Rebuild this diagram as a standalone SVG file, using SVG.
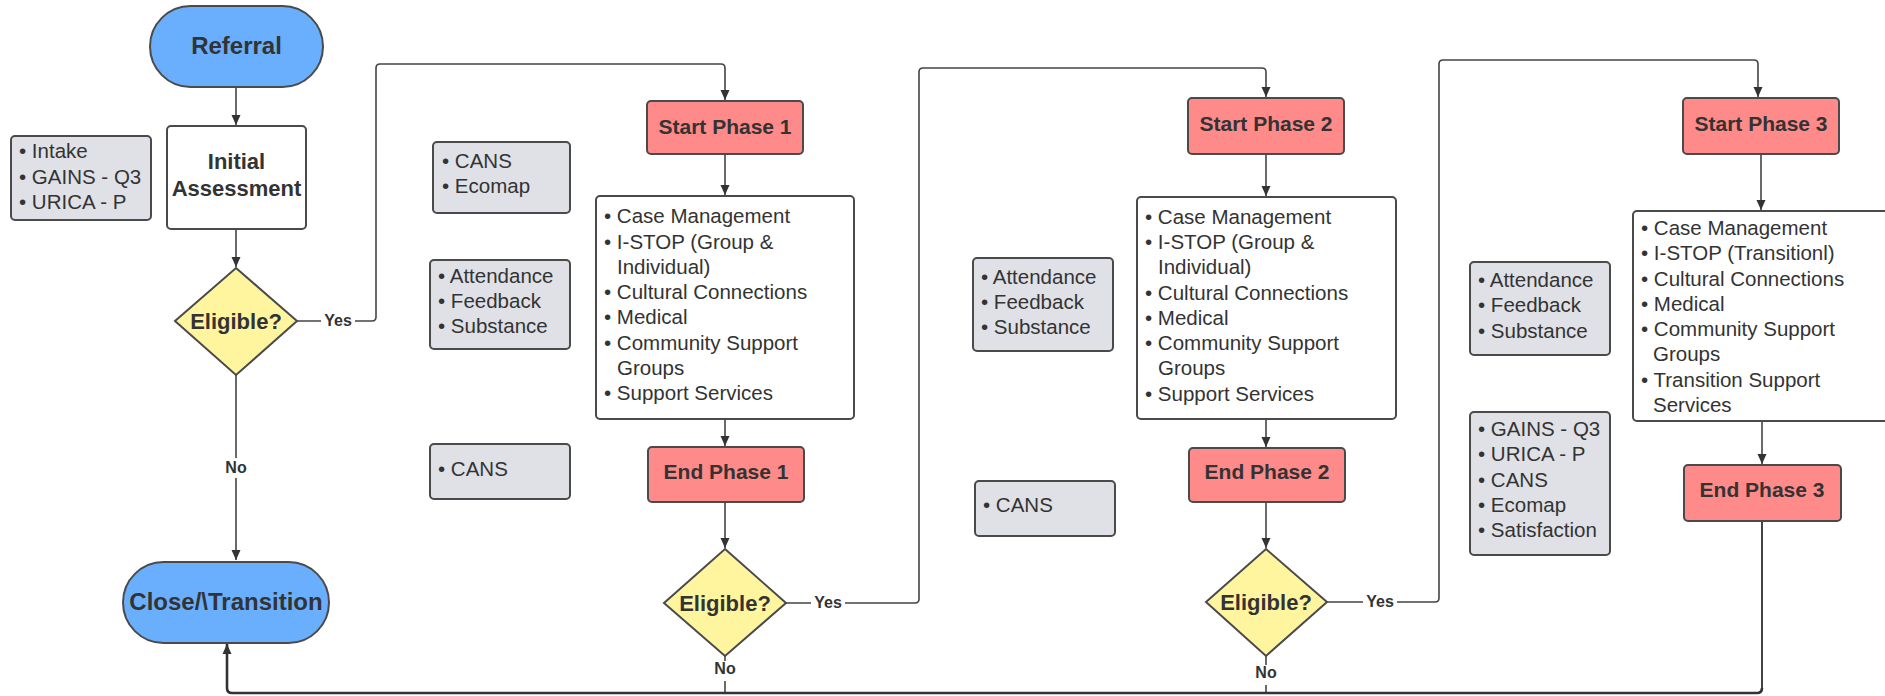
<svg xmlns="http://www.w3.org/2000/svg" width="1885" height="696" viewBox="0 0 1885 696">
<defs>
<marker id="arr" markerUnits="userSpaceOnUse" markerWidth="12" markerHeight="12" viewBox="0 0 12 12" refX="11" refY="6" orient="auto">
<path d="M1 1.5 L11 6 L1 10.5 Z" fill="#333"/>
</marker>
<style>
.term{fill:#6aaffd;stroke:#4a4a4a;stroke-width:2}
.proc{fill:#fff;stroke:#4a4a4a;stroke-width:2}
.note{fill:#dfe1e6;stroke:#4a4a4a;stroke-width:2}
.phase{fill:#ff8a8a;stroke:#4a4a4a;stroke-width:2}
.dec{fill:#fff59f;stroke:#4a4a4a;stroke-width:2}
.t{font-family:"Liberation Sans",Arial,sans-serif;fill:#333}
.b{font-weight:bold}
.big{font-size:24px}
.mid{font-size:22px}
.ph{font-size:21px}
.body{font-size:20.5px}
.lbl{font-size:16px;font-weight:bold}
.c{text-anchor:middle}
.con{fill:none;stroke:#444;stroke-width:1.6;stroke-linejoin:round}
.ret{fill:none;stroke:#333;stroke-width:2.6;stroke-linejoin:round}
.lb{fill:#fff}
</style>
</defs>

<g id="connectors">
<path class="con" d="M236 87 V125" marker-end="url(#arr)"/>
<path class="con" d="M236 229 V267" marker-end="url(#arr)"/>
<path class="con" d="M297 321 H372 Q376 321 376 317 V68 Q376 64 380 64 H721 Q725 64 725 68 V100" marker-end="url(#arr)"/>
<path class="con" d="M236 375 V560" marker-end="url(#arr)"/>
<path class="con" d="M725 154 V195" marker-end="url(#arr)"/>
<path class="con" d="M725 419 V446" marker-end="url(#arr)"/>
<path class="con" d="M725 502 V548" marker-end="url(#arr)"/>
<path class="con" d="M786 603 H915 Q919 603 919 599 V72 Q919 68 923 68 H1262 Q1266 68 1266 72 V97" marker-end="url(#arr)"/>
<path class="con" d="M1266 154 V196" marker-end="url(#arr)"/>
<path class="con" d="M1266 419 V447" marker-end="url(#arr)"/>
<path class="con" d="M1266 502 V548" marker-end="url(#arr)"/>
<path class="con" d="M1327 602 H1435 Q1439 602 1439 598 V64 Q1439 60 1443 60 H1754 Q1758 60 1758 64 V97" marker-end="url(#arr)"/>
<path class="con" d="M1761 154 V210" marker-end="url(#arr)"/>
<path class="con" d="M1762 421 V464" marker-end="url(#arr)"/>
<path class="con" d="M725 656 V693"/>
<path class="con" d="M1266 656 V693"/>
<path class="con" style="stroke-width:2" d="M1762 521 V689"/>
<path class="ret" d="M1762 688 Q1762 693 1757 693 H232 Q227 693 227 688 V644" marker-end="url(#arr)"/>
<rect class="lb" x="321" y="312" width="34" height="18"/>
<text class="t lbl c" x="338" y="326">Yes</text>
<rect class="lb" x="222" y="458" width="28" height="20"/>
<text class="t lbl c" x="236" y="473">No</text>
<rect class="lb" x="811" y="594" width="34" height="18"/>
<text class="t lbl c" x="828" y="608">Yes</text>
<rect class="lb" x="711" y="661" width="28" height="20"/>
<text class="t lbl c" x="725" y="674">No</text>
<rect class="lb" x="1363" y="593" width="34" height="18"/>
<text class="t lbl c" x="1380" y="607">Yes</text>
<rect class="lb" x="1252" y="665" width="28" height="20"/>
<text class="t lbl c" x="1266" y="678">No</text>
</g>

<g id="referral">
<rect class="term" x="150" y="6" width="173" height="81" rx="40.5"/>
<text class="t b big c" x="236.5" y="54">Referral</text>
</g>

<g id="intake-notes">
<rect class="note" x="11" y="136" width="140" height="84" rx="4"/>
<text class="t body"><tspan x="19" y="158">• Intake</tspan><tspan x="19" y="184">• GAINS - Q3</tspan><tspan x="19" y="209">• URICA - P</tspan></text>
</g>

<g id="initial-assessment">
<rect class="proc" x="167" y="126" width="139" height="103" rx="4"/>
<text class="t b mid c" x="236.5" y="169">Initial</text>
<text class="t b mid c" x="236.5" y="196">Assessment</text>
</g>

<g id="eligible-0">
<path class="dec" d="M236 268 L297 321 L236 375 L175 321 Z"/>
<text class="t b mid c" x="236" y="329">Eligible?</text>
</g>

<g id="close-transition">
<rect class="term" x="123" y="562" width="206" height="81" rx="40.5"/>
<text class="t b big c" x="226" y="610">Close/\Transition</text>
</g>

<g id="p1-notes-a">
<rect class="note" x="433" y="142" width="137" height="71" rx="4"/>
<text class="t body"><tspan x="442" y="168">• CANS</tspan><tspan x="442" y="193">• Ecomap</tspan></text>
</g>

<g id="p1-notes-b">
<rect class="note" x="430" y="260" width="140" height="89" rx="4"/>
<text class="t body"><tspan x="438" y="283">• Attendance</tspan><tspan x="438" y="308">• Feedback</tspan><tspan x="438" y="333">• Substance</tspan></text>
</g>

<g id="p1-notes-c">
<rect class="note" x="430" y="444" width="140" height="55" rx="4"/>
<text class="t body"><tspan x="438" y="476">• CANS</tspan></text>
</g>

<g id="start-phase-1">
<rect class="phase" x="647" y="101" width="156" height="53" rx="4"/>
<text class="t b ph c" x="725" y="134">Start Phase 1</text>
</g>

<g id="services-1">
<rect class="proc" x="596" y="196" width="258" height="223" rx="4"/>
<text class="t body"><tspan x="604" y="223">• Case Management</tspan><tspan x="604" y="249">• I-STOP (Group &amp;</tspan><tspan x="617" y="274">Individual)</tspan><tspan x="604" y="299">• Cultural Connections</tspan><tspan x="604" y="324">• Medical</tspan><tspan x="604" y="350">• Community Support</tspan><tspan x="617" y="375">Groups</tspan><tspan x="604" y="400">• Support Services</tspan></text>
</g>

<g id="end-phase-1">
<rect class="phase" x="648" y="447" width="156" height="55" rx="4"/>
<text class="t b ph c" x="726" y="479">End Phase 1</text>
</g>

<g id="eligible-1">
<path class="dec" d="M725 549 L786 603 L725 656 L664 603 Z"/>
<text class="t b mid c" x="725" y="611">Eligible?</text>
</g>

<g id="p2-notes-a">
<rect class="note" x="973" y="258" width="140" height="93" rx="4"/>
<text class="t body"><tspan x="981" y="284">• Attendance</tspan><tspan x="981" y="309">• Feedback</tspan><tspan x="981" y="334">• Substance</tspan></text>
</g>

<g id="p2-notes-b">
<rect class="note" x="975" y="481" width="140" height="55" rx="4"/>
<text class="t body"><tspan x="983" y="512">• CANS</tspan></text>
</g>

<g id="start-phase-2">
<rect class="phase" x="1188" y="98" width="156" height="56" rx="4"/>
<text class="t b ph c" x="1266" y="131">Start Phase 2</text>
</g>

<g id="services-2">
<rect class="proc" x="1137" y="197" width="259" height="222" rx="4"/>
<text class="t body"><tspan x="1145" y="224">• Case Management</tspan><tspan x="1145" y="249">• I-STOP (Group &amp;</tspan><tspan x="1158" y="274">Individual)</tspan><tspan x="1145" y="300">• Cultural Connections</tspan><tspan x="1145" y="325">• Medical</tspan><tspan x="1145" y="350">• Community Support</tspan><tspan x="1158" y="375">Groups</tspan><tspan x="1145" y="401">• Support Services</tspan></text>
</g>

<g id="end-phase-2">
<rect class="phase" x="1189" y="448" width="156" height="54" rx="4"/>
<text class="t b ph c" x="1267" y="479">End Phase 2</text>
</g>

<g id="eligible-2">
<path class="dec" d="M1266 549 L1327 602 L1266 656 L1206 602 Z"/>
<text class="t b mid c" x="1266" y="610">Eligible?</text>
</g>

<g id="p3-notes-a">
<rect class="note" x="1470" y="262" width="140" height="93" rx="4"/>
<text class="t body"><tspan x="1478" y="287">• Attendance</tspan><tspan x="1478" y="312">• Feedback</tspan><tspan x="1478" y="338">• Substance</tspan></text>
</g>

<g id="p3-notes-b">
<rect class="note" x="1470" y="412" width="140" height="143" rx="4"/>
<text class="t body"><tspan x="1478" y="436">• GAINS - Q3</tspan><tspan x="1478" y="461">• URICA - P</tspan><tspan x="1478" y="487">• CANS</tspan><tspan x="1478" y="512">• Ecomap</tspan><tspan x="1478" y="537">• Satisfaction</tspan></text>
</g>

<g id="start-phase-3">
<rect class="phase" x="1683" y="98" width="156" height="56" rx="4"/>
<text class="t b ph c" x="1761" y="131">Start Phase 3</text>
</g>

<g id="services-3">
<rect class="proc" x="1633" y="211" width="262" height="210" rx="4"/>
<text class="t body"><tspan x="1641" y="235">• Case Management</tspan><tspan x="1641" y="260">• I-STOP (Transitionl)</tspan><tspan x="1641" y="286">• Cultural Connections</tspan><tspan x="1641" y="311">• Medical</tspan><tspan x="1641" y="336">• Community Support</tspan><tspan x="1653" y="361">Groups</tspan><tspan x="1641" y="387">• Transition Support</tspan><tspan x="1653" y="412">Services</tspan></text>
</g>

<g id="end-phase-3">
<rect class="phase" x="1684" y="465" width="157" height="56" rx="4"/>
<text class="t b ph c" x="1762" y="497">End Phase 3</text>
</g>
</svg>
